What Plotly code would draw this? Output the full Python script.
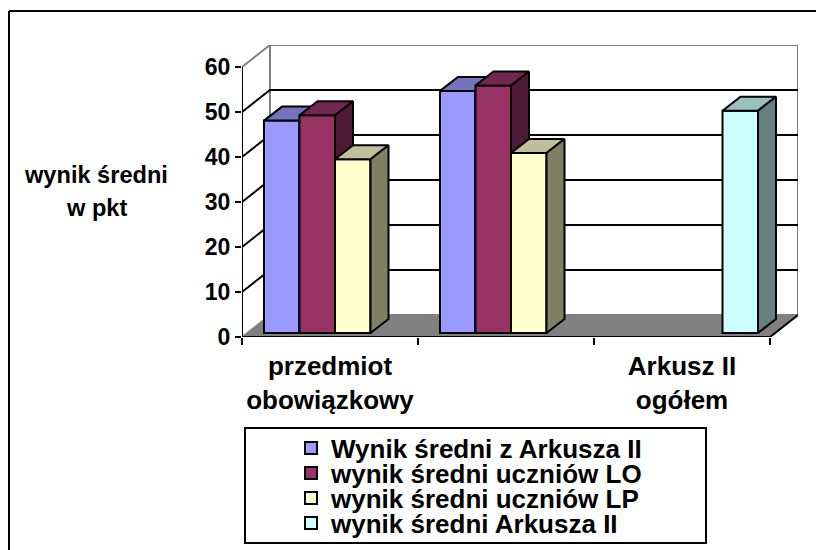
import plotly.graph_objects as go

category_labels = ["przedmiot<br>obowiązkowy", " ", "Arkusz II<br>ogółem"]
series_names = ["Wynik średni z Arkusza II", "wynik średni uczniów LO",
                "wynik średni uczniów LP", "wynik średni Arkusza II"]
series_x = [[0, 1], [0, 1], [0, 1], [2]]
series_values = [[47.2, 53.8], [48.4, 55.0], [38.6, 40.0], [49.4]]
front_colors = ["#9999FF", "#993366", "#FFFFCC", "#CCFFFF"]
top_colors = ["#7373BF", "#732650", "#BFBF99", "#99BFBF"]
side_colors = ["#4D4D80", "#4D1A33", "#808066", "#668080"]
y_ticks = [0, 10, 20, 30, 40, 50, 60]
axis_title_lines = ["wynik średni", "w pkt"]

FONT = "Liberation Sans, Arial, sans-serif"
W, H = 816, 550
L, R, T0, B0 = 242, 770, 67, 337
PXX = (R - L) / 3
PXY = (B0 - T0) / 60
DX, DY = 28 / PXX, 22 / PXY
X0, X1 = -0.5, 2.5 + DX
Y1 = 60 + DY
SLOT = 35.5 / PXX
BDX, BDY = 18 / PXX, 14 / PXY
SX, SY = 5 / PXX, 4 / PXY
PW, PH = (R + 28 - L), (B0 - (T0 - 22))
def px(x): return (x - L) / PW
def py(y): return (B0 - y) / PH

fig = go.Figure()
LINE = dict(color="#000000", width=2)
def helper(x, y, color, width, **kw):
    fig.add_trace(go.Scatter(x=x, y=y, mode="lines", line=dict(color=color, width=width),
                             showlegend=False, hoverinfo="skip", **kw))

helper([X0, X0 + DX, X1, 2.5, X0], [0, DY, DY, 0, 0], "#808080", 1.5, fill="toself", fillcolor="#808080")
helper([X0, X0 + DX, X0 + DX, X1, X1], [60, Y1, DY, DY, Y1], "#808080", 2)
helper([X0 + DX, X1], [Y1, Y1], "#808080", 2)
for t in y_ticks[1:-1]:
    helper([X0, X0 + DX, X1], [t, t + DY, t + DY], "#000000", 2)
helper([X0, X0], [0, 60], "#000000", 2)
helper([X0, 2.5, X1], [0, 0, DY], "#000000", 2)

layout_axes = {}
legends = {}
legend_rows = [448, 473, 498, 523]
for i, name in enumerate(series_names):
    ax = str(i + 2)
    off = -2 * SLOT + i * SLOT + SX
    for xc, v in zip(series_x[i], series_values[i]):
        x0, x1 = xc + off, xc + off + SLOT
        b, top = SY, SY + v
        fig.add_trace(go.Scatter(x=[x0, x0 + BDX, x1 + BDX, x1, x0], y=[top, top + BDY, top + BDY, top, top],
                                 mode="lines", fill="toself", fillcolor=top_colors[i], line=LINE,
                                 showlegend=False, hoverinfo="skip", xaxis="x" + ax, yaxis="y" + ax))
        fig.add_trace(go.Scatter(x=[x1, x1 + BDX, x1 + BDX, x1, x1], y=[top, top + BDY, b + BDY, b, top],
                                 mode="lines", fill="toself", fillcolor=side_colors[i], line=LINE,
                                 showlegend=False, hoverinfo="skip", xaxis="x" + ax, yaxis="y" + ax))
    lg = "legend" if i == 0 else "legend" + str(i + 1)
    fig.add_trace(go.Bar(x=series_x[i], y=series_values[i], base=SY, width=SLOT, offset=off, name=name,
                         marker=dict(color=front_colors[i], line=LINE), showlegend=True, legend=lg,
                         xaxis="x" + ax, yaxis="y" + ax))
    layout_axes["xaxis" + ax] = dict(overlaying="x", matches="x", visible=False)
    layout_axes["yaxis" + ax] = dict(overlaying="y", matches="y", visible=False)
    legends[lg] = dict(x=px(291), y=py(legend_rows[i]), xanchor="left", yanchor="middle",
                       bgcolor="rgba(0,0,0,0)", borderwidth=0,
                       font=dict(family=FONT, size=26, color="#000000", weight="bold"))

bold = lambda s: dict(family=FONT, size=s, color="#000000", weight="bold")
fig.update_layout(
    width=W, height=H, autosize=False, showlegend=True,
    paper_bgcolor="#FFFFFF", plot_bgcolor="#FFFFFF", barmode="overlay",
    margin=dict(l=L, r=W - (R + 28), t=T0 - 22, b=H - B0, pad=0, autoexpand=False),
    font=dict(family=FONT, size=22, color="#000000"),
    xaxis=dict(range=[X0, X1], tickmode="array", tickvals=[0, 1, 2], ticktext=category_labels,
               ticks="", showgrid=False, zeroline=False, showline=False, tickfont=bold(26),
               ticklabelstandoff=11,
               minor=dict(tickmode="array", tickvals=[-0.5, 0.5, 1.5, 2.5], ticks="outside",
                          ticklen=7, tickwidth=2, tickcolor="#000000", showgrid=False)),
    yaxis=dict(range=[0, Y1], tickmode="array", tickvals=y_ticks, ticks="outside", ticklen=6,
               tickwidth=2, tickcolor="#000000", showgrid=False, zeroline=False, showline=False,
               tickfont=bold(23)),
    shapes=[
        dict(type="line", xref="paper", yref="paper", x0=px(9), x1=px(9), y0=py(11), y1=py(550),
             line=dict(color="#000000", width=2)),
        dict(type="line", xref="paper", yref="paper", x0=px(9), x1=px(816), y0=py(11), y1=py(11),
             line=dict(color="#000000", width=2)),
        dict(type="rect", xref="paper", yref="paper", x0=px(245), x1=px(706), y0=py(428), y1=py(543),
             line=dict(color="#000000", width=2), fillcolor="#FFFFFF", layer="below"),
    ],
    annotations=[
        dict(text="<b>%s</b>" % axis_title_lines[0], xref="paper", yref="paper", x=px(96), y=py(175),
             xanchor="center", yanchor="middle", showarrow=False, font=dict(family=FONT, size=23.6, color="#000000")),
        dict(text="<b>%s</b>" % axis_title_lines[1], xref="paper", yref="paper", x=px(96), y=py(208),
             xanchor="center", yanchor="middle", showarrow=False, font=dict(family=FONT, size=23.6, color="#000000")),
    ],
    **layout_axes, **legends,
)
fig.write_html("out.html", post_script="document.body.style.margin='0';", config={"displayModeBar": False})
